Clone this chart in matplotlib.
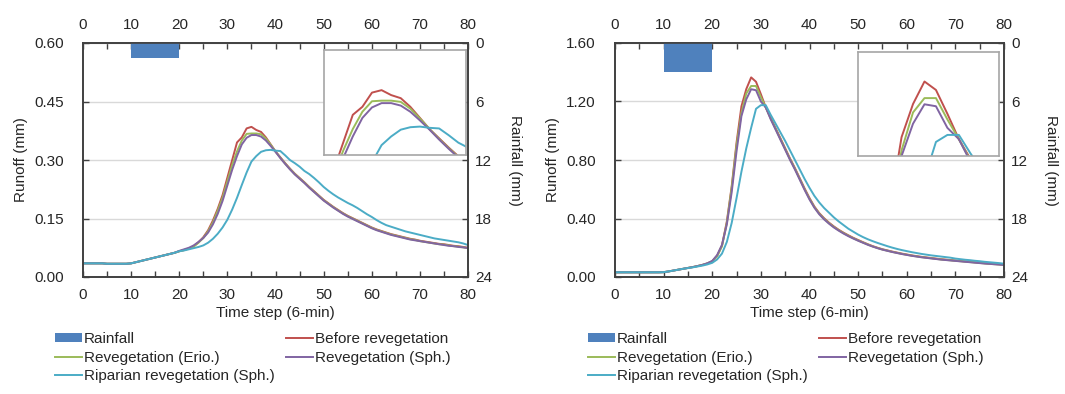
import numpy as np
import matplotlib
matplotlib.use('Agg')
import matplotlib.pyplot as plt
from matplotlib.patches import Patch
from matplotlib.lines import Line2D
from matplotlib.ticker import MultipleLocator, FormatStrFormatter

plt.rcParams['font.family'] = ['Liberation Sans', 'DejaVu Sans']

"""################DATA################"""
steps = list(range(81))

# rainfall (mm per 6-min step), steps 10-19
rain_steps = [10, 11, 12, 13, 14, 15, 16, 17, 18, 19]
rain_left = [1.5, 1.5, 1.5, 1.5, 1.5, 1.5, 1.5, 1.5, 1.5, 1.5]
rain_right = [3.0, 3.0, 3.0, 3.0, 3.0, 3.0, 3.0, 3.0, 3.0, 3.0]

# left panel runoff (mm)
left_before = [0.035, 0.035, 0.035, 0.035, 0.035, 0.034, 0.034, 0.034, 0.034, 0.034,
               0.035, 0.038, 0.041, 0.044, 0.047, 0.050, 0.053, 0.056, 0.059, 0.062,
               0.066, 0.069, 0.073, 0.079, 0.089, 0.102, 0.120, 0.145, 0.175, 0.210,
               0.255, 0.300, 0.345, 0.358, 0.381, 0.385, 0.377, 0.372, 0.358, 0.340,
               0.322, 0.307, 0.292, 0.278, 0.265, 0.254, 0.243, 0.231, 0.220, 0.209,
               0.198, 0.189, 0.180, 0.172, 0.164, 0.157, 0.151, 0.145, 0.139, 0.133,
               0.127, 0.122, 0.118, 0.114, 0.110, 0.107, 0.104, 0.101, 0.098, 0.096,
               0.093, 0.091, 0.089, 0.087, 0.085, 0.084, 0.082, 0.080, 0.079, 0.077,
               0.075]
left_erio = [0.035, 0.035, 0.035, 0.035, 0.035, 0.034, 0.034, 0.034, 0.034, 0.034,
             0.035, 0.038, 0.041, 0.044, 0.047, 0.050, 0.053, 0.056, 0.059, 0.062,
             0.066, 0.069, 0.073, 0.078, 0.088, 0.100, 0.117, 0.140, 0.170, 0.203,
             0.245, 0.287, 0.322, 0.350, 0.367, 0.368, 0.368, 0.366, 0.355, 0.339,
             0.322, 0.306, 0.291, 0.277, 0.264, 0.253, 0.242, 0.230, 0.219, 0.208,
             0.197, 0.188, 0.179, 0.171, 0.163, 0.156, 0.150, 0.144, 0.138, 0.132,
             0.126, 0.121, 0.117, 0.113, 0.109, 0.106, 0.103, 0.100, 0.097, 0.095,
             0.092, 0.090, 0.088, 0.086, 0.084, 0.083, 0.081, 0.079, 0.078, 0.076,
             0.074]
left_sph = [0.035, 0.035, 0.035, 0.035, 0.035, 0.034, 0.034, 0.034, 0.034, 0.034,
            0.035, 0.038, 0.041, 0.044, 0.047, 0.050, 0.053, 0.056, 0.059, 0.062,
            0.067, 0.071, 0.075, 0.081, 0.090, 0.100, 0.114, 0.135, 0.162, 0.195,
            0.235, 0.275, 0.310, 0.340, 0.357, 0.364, 0.364, 0.360, 0.350, 0.336,
            0.321, 0.305, 0.290, 0.276, 0.263, 0.252, 0.241, 0.229, 0.218, 0.207,
            0.196, 0.187, 0.178, 0.170, 0.162, 0.155, 0.149, 0.143, 0.137, 0.131,
            0.125, 0.120, 0.116, 0.112, 0.108, 0.105, 0.102, 0.099, 0.096, 0.094,
            0.092, 0.090, 0.088, 0.086, 0.084, 0.082, 0.080, 0.079, 0.077, 0.076,
            0.074]
left_rip = [0.035, 0.035, 0.035, 0.035, 0.035, 0.034, 0.034, 0.034, 0.034, 0.034,
            0.035, 0.038, 0.041, 0.044, 0.047, 0.050, 0.053, 0.056, 0.059, 0.062,
            0.066, 0.068, 0.071, 0.074, 0.077, 0.081, 0.088, 0.098, 0.111, 0.127,
            0.147, 0.173, 0.203, 0.236, 0.268, 0.296, 0.310, 0.321, 0.325, 0.326,
            0.324, 0.323, 0.312, 0.300, 0.292, 0.283, 0.272, 0.264, 0.254, 0.243,
            0.231, 0.221, 0.212, 0.204, 0.197, 0.190, 0.184, 0.177, 0.169, 0.161,
            0.154, 0.146, 0.139, 0.133, 0.129, 0.125, 0.121, 0.117, 0.114, 0.111,
            0.108, 0.105, 0.102, 0.099, 0.097, 0.095, 0.093, 0.091, 0.089, 0.086,
            0.082]

# right panel runoff (mm)
right_before = [0.032, 0.032, 0.032, 0.032, 0.032, 0.032, 0.032, 0.032, 0.032, 0.032,
                0.033, 0.038, 0.044, 0.050, 0.056, 0.062, 0.068, 0.075, 0.083, 0.093,
                0.108, 0.145, 0.215, 0.380, 0.620, 0.920, 1.167, 1.285, 1.365, 1.335,
                1.250, 1.160, 1.090, 1.020, 0.950, 0.880, 0.810, 0.745, 0.675, 0.605,
                0.540, 0.482, 0.437, 0.402, 0.372, 0.346, 0.323, 0.303, 0.285, 0.268,
                0.253, 0.238, 0.224, 0.211, 0.200, 0.190, 0.182, 0.174, 0.167, 0.160,
                0.154, 0.148, 0.143, 0.138, 0.134, 0.130, 0.126, 0.122, 0.119, 0.116,
                0.113, 0.110, 0.107, 0.104, 0.101, 0.098, 0.095, 0.092, 0.089, 0.087,
                0.084]
right_erio = [0.032, 0.032, 0.032, 0.032, 0.032, 0.032, 0.032, 0.032, 0.032, 0.032,
              0.033, 0.038, 0.044, 0.050, 0.056, 0.062, 0.068, 0.075, 0.083, 0.093,
              0.107, 0.142, 0.210, 0.370, 0.610, 0.900, 1.120, 1.255, 1.306, 1.306,
              1.230, 1.160, 1.085, 1.015, 0.945, 0.875, 0.805, 0.740, 0.670, 0.600,
              0.535, 0.478, 0.433, 0.398, 0.368, 0.342, 0.320, 0.300, 0.282, 0.265,
              0.250, 0.236, 0.222, 0.209, 0.198, 0.188, 0.180, 0.172, 0.165, 0.158,
              0.152, 0.146, 0.141, 0.136, 0.132, 0.128, 0.124, 0.120, 0.117, 0.114,
              0.111, 0.108, 0.105, 0.102, 0.099, 0.096, 0.093, 0.090, 0.088, 0.086,
              0.083]
right_sph = [0.032, 0.032, 0.032, 0.032, 0.032, 0.032, 0.032, 0.032, 0.032, 0.032,
             0.033, 0.038, 0.044, 0.050, 0.056, 0.062, 0.068, 0.075, 0.083, 0.094,
             0.110, 0.150, 0.220, 0.360, 0.580, 0.860, 1.100, 1.215, 1.284, 1.277,
             1.200, 1.160, 1.080, 1.010, 0.940, 0.870, 0.800, 0.735, 0.665, 0.595,
             0.530, 0.474, 0.429, 0.394, 0.365, 0.339, 0.317, 0.297, 0.279, 0.263,
             0.248, 0.234, 0.220, 0.208, 0.197, 0.187, 0.179, 0.171, 0.164, 0.157,
             0.151, 0.145, 0.140, 0.135, 0.131, 0.127, 0.123, 0.119, 0.116, 0.113,
             0.110, 0.107, 0.104, 0.101, 0.098, 0.095, 0.092, 0.090, 0.087, 0.085,
             0.082]
right_rip = [0.032, 0.032, 0.032, 0.032, 0.032, 0.032, 0.032, 0.032, 0.032, 0.032,
             0.033, 0.038, 0.044, 0.050, 0.056, 0.061, 0.066, 0.072, 0.078, 0.086,
             0.097, 0.120, 0.160, 0.240, 0.370, 0.540, 0.720, 0.880, 1.020, 1.150,
             1.175, 1.175, 1.110, 1.050, 0.990, 0.930, 0.865, 0.800, 0.735, 0.670,
             0.610, 0.555, 0.510, 0.472, 0.440, 0.408, 0.380, 0.355, 0.330, 0.310,
             0.290, 0.273, 0.258, 0.245, 0.233, 0.222, 0.211, 0.201, 0.192, 0.184,
             0.177, 0.170, 0.164, 0.158, 0.153, 0.148, 0.144, 0.140, 0.136, 0.132,
             0.126, 0.122, 0.118, 0.115, 0.111, 0.108, 0.104, 0.101, 0.098, 0.095,
             0.091]

series_names = ['Before revegetation', 'Revegetation (Erio.)',
                'Revegetation (Sph.)', 'Riparian revegetation (Sph.)']
colors = ['#C0504D', '#9BBB59', '#8064A2', '#4BACC6']
rain_color = '#4F81BD'
text_color = '#262626'
spine_color = '#404040'
fs = 11


"""################PLOT################"""
def draw_panel(fig, rect, inset_rect, runoff, rain, ymax, ystep, inset_xlim, inset_ylim,
               legend_x):
    ax = fig.add_axes(rect)
    ax.set_xlim(0, 80)
    ax.set_ylim(0, ymax)
    ax.yaxis.set_major_locator(MultipleLocator(ystep))
    ax.yaxis.set_major_formatter(FormatStrFormatter('%.2f'))
    ax.xaxis.set_major_locator(MultipleLocator(10))
    ax.xaxis.set_minor_locator(MultipleLocator(5))
    ax.grid(axis='y', color='#D9D9D9', lw=1.0)
    ax.set_axisbelow(True)
    for y, c in zip(runoff, colors):
        ax.plot(steps, y, color=c, lw=1.4)
    ax.tick_params(which='both', direction='in', top=True, labeltop=True,
                   colors=spine_color, labelcolor=text_color, labelsize=fs)
    ax.tick_params(which='both', length=4, width=1)
    ax.tick_params(axis='x', pad=8)
    ax.tick_params(axis='y', pad=14)
    for s in ax.spines.values():
        s.set_color(spine_color)
        s.set_linewidth(1.2)
    ax.set_xlabel('Time step (6-min)', fontsize=fs, color=text_color)
    ax.set_ylabel('Runoff (mm)', fontsize=fs, color=text_color)
    ax.xaxis.set_label_coords(0.5, -0.155)
    ax.xaxis.label.set_va('center')
    ax.yaxis.set_label_coords(-0.16, 0.5)
    ax.yaxis.label.set_va('center')

    ax2 = ax.twinx()
    ax2.bar(rain_steps, rain, width=1.0, align='edge', color=rain_color)
    ax2.set_ylim(24, 0)
    ax2.set_yticks([0, 6, 12, 18, 24])
    ax2.tick_params(direction='in', length=4, width=1, pad=5,
                    colors=spine_color, labelcolor=text_color, labelsize=fs)
    for s in ax2.spines.values():
        s.set_color(spine_color)
        s.set_linewidth(1.2)
    ax2.set_ylabel('Rainfall (mm)', fontsize=fs, color=text_color, rotation=-90)
    ax2.yaxis.set_label_coords(1.122, 0.5)
    ax2.yaxis.label.set_va('center')

    axi = fig.add_axes(inset_rect)
    for y, c in zip(runoff, colors):
        axi.plot(steps, y, color=c, lw=1.4)
    axi.set_xlim(*inset_xlim)
    axi.set_ylim(*inset_ylim)
    axi.set_xticks([])
    axi.set_yticks([])
    for s in axi.spines.values():
        s.set_color('#A6A6A6')
        s.set_linewidth(1.2)

    handles = [Patch(facecolor=rain_color, edgecolor='none'),
               Line2D([], [], color=colors[1], lw=1.4),
               Line2D([], [], color=colors[3], lw=1.4),
               Line2D([], [], color=colors[0], lw=1.4),
               Line2D([], [], color=colors[2], lw=1.4)]
    labels = ['Rainfall', series_names[1], series_names[3],
              series_names[0], series_names[2]]
    fig.legend(handles, labels, loc='upper left',
               bbox_to_anchor=(legend_x, 1 - 332 / 394), ncol=2, frameon=False,
               fontsize=fs, handlelength=1.75, handleheight=0.45,
               handletextpad=0.15, columnspacing=0.75, labelspacing=0.3,
               borderpad=0, borderaxespad=0, labelcolor=text_color)
    return ax


def main():
    W, H = 1065, 394
    fig = plt.figure(figsize=(W / 100, H / 100), dpi=100)

    draw_panel(fig, [83 / W, 1 - 277 / H, 385 / W, 234 / H],
               [324 / W, 1 - 155 / H, 142 / W, 105 / H],
               [left_before, left_erio, left_sph, left_rip], rain_left,
               0.60, 0.15, (29.0, 43.8), (0.28, 0.45), 55 / W)
    draw_panel(fig, [615 / W, 1 - 277 / H, 389 / W, 234 / H],
               [858 / W, 1 - 156 / H, 141 / W, 104 / H],
               [right_before, right_erio, right_sph, right_rip], rain_right,
               1.60, 0.40, (22.2, 34.5), (1.10, 1.47), 588 / W)

    fig.savefig('out.png', dpi=100)


if __name__ == '__main__':
    main()
